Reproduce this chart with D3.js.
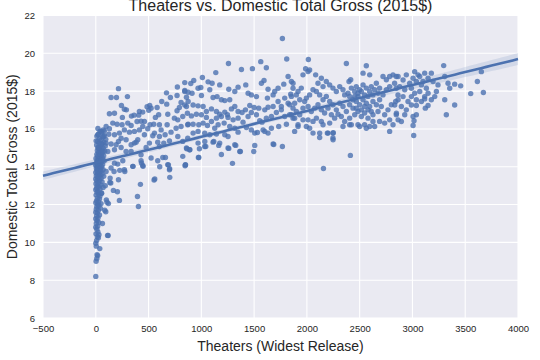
<!DOCTYPE html>
<html><head><meta charset="utf-8">
<script src="https://cdn.jsdelivr.net/npm/d3@7"></script>
<style>body{margin:0;background:#fff;}svg{display:block;font-family:"Liberation Sans",Arial,sans-serif;}</style>
</head><body>
<script>
// ---- data (theaters, log domestic total gross 2015$) ----
const xTicks = [-500,0,500,1000,1500,2000,2500,3000,3500,4000];
const yTicks = [6,8,10,12,14,16,18,20,22];
const chartTitle = "Theaters vs. Domestic Total Gross (2015$)";
const xLabel = "Theaters (Widest Release)";
const yLabel = "Domestic Total Gross (2015$)";

const limitedRelease = [[0,8.2],[3,9.0],[10,9.15],[18,9.3],[12,9.35],[38,9.67],[5,9.8],[0,9.95],[8,10.1],[25,10.25],[15,10.3],[112,10.37],[30,10.4],[2,10.45],[20,10.55],[10,10.7],[0,10.8],[18,10.85],[5,11.0],[63,11.0],[28,11.05],[12,11.15],[0,11.25],[22,11.3],[8,11.4],[35,11.45],[15,11.55],[0,11.6],[95,11.62],[25,11.7],[5,11.75],[45,11.8],[10,11.9],[30,11.95],[18,12.0],[50,12.05],[120,12.05],[0,12.1],[25,12.15],[8,12.2],[100,12.25],[35,12.3],[15,12.35],[40,12.45],[3,12.5],[28,12.55],[55,12.6],[12,12.65],[20,12.72],[0,12.78],[40,12.82],[8,12.88],[70,12.9],[30,12.95],[15,13.0],[90,13.0],[45,13.05],[2,13.1],[22,13.15],[60,13.2],[10,13.25],[35,13.3],[0,13.35],[50,13.38],[18,13.42],[28,13.47],[75,13.5],[5,13.52],[40,13.56],[15,13.6],[60,13.62],[25,13.66],[0,13.7],[35,13.72],[50,13.76],[10,13.8],[20,13.82],[70,13.85],[30,13.88],[45,13.9],[5,13.94],[15,13.97],[55,14.0],[25,14.02],[38,14.05],[0,14.08],[12,14.1],[65,14.12],[30,14.15],[45,14.18],[20,14.2],[8,14.23],[55,14.26],[35,14.3],[80,14.32],[15,14.35],[25,14.38],[48,14.4],[2,14.44],[62,14.46],[30,14.5],[40,14.53],[18,14.56],[75,14.58],[52,14.62],[10,14.65],[35,14.7],[60,14.72],[25,14.76],[45,14.8],[85,14.82],[15,14.86],[55,14.9],[32,14.94],[70,14.98],[20,15.02],[42,15.06],[90,15.1],[8,15.15],[60,15.2],[30,15.25],[75,15.3],[18,15.35],[50,15.42],[95,15.45],[35,15.5],[65,15.58],[10,15.62],[80,15.65],[25,15.72],[55,15.8],[40,15.88],[70,15.95],[20,16.02]];

const smallRelease = [[142,13.14],[167,12.75],[205,12.68],[224,12.22],[395,12.43],[404,11.9],[423,13.07],[552,13.3],[133,13.17],[136,13.4],[215,13.31],[173,13.75],[227,13.81],[275,13.75],[353,14.02],[433,14.2],[448,14.02],[559,13.35],[107,12.12],[85,11.7],[117,10.36],[54,12.6]];

const earlyRelease = [[215,18.13],[145,17.66],[196,17.66],[300,17.71],[773,18.22],[843,18.03],[243,17.24],[290,17.01],[271,17.04],[129,16.80],[177,16.83],[252,16.61],[338,16.68],[363,16.73],[413,16.92],[445,16.89],[407,16.73],[486,17.17],[511,17.24],[524,17.10],[502,16.99],[581,17.13],[625,17.45],[672,17.31],[707,17.66],[770,17.77],[808,17.40],[859,17.68],[859,17.19],[792,17.13],[770,16.96],[682,16.78],[596,16.75],[565,16.61],[603,16.22],[549,16.25],[514,16.22],[461,16.39],[429,16.41],[391,16.39],[335,16.18],[303,16.31],[249,16.22],[202,16.25],[161,16.31],[98,16.13],[82,15.90],[129,16.01],[50,15.87],[19,15.69],[3,15.37],[76,15.60],[123,15.72],[177,15.69],[224,15.78],[271,15.95],[319,15.83],[366,15.87],[413,15.95],[445,16.13],[492,16.01],[556,15.78],[619,15.95],[676,16.22],[745,16.57],[777,16.48],[824,16.66],[871,16.22],[808,16.13],[761,16.04],[713,15.83],[657,15.69],[603,15.60],[540,15.64],[461,15.69],[398,15.43],[366,15.25],[335,15.16],[287,15.43],[240,15.51],[215,15.34],[193,15.16],[145,15.20],[98,15.25],[50,15.20],[25,14.99],[66,14.81],[114,14.81],[177,14.90],[240,15.02],[287,14.81],[335,14.81],[382,15.30],[429,14.63],[477,15.02],[508,15.25],[587,15.30],[603,15.07],[644,15.25],[698,15.37],[777,15.60],[824,15.34],[871,15.51],[429,14.32],[445,14.07],[524,14.46],[587,14.32],[635,14.49],[682,14.11],[824,14.55],[846,14.05],[698,13.84],[256,14.32],[208,14.14],[177,14.19],[145,13.93],[98,13.75],[271,13.84],[350,14.02],[670,17.91],[843,18.45]];

const midRelease = [[1768,20.78],[1809,19.70],[1257,19.46],[1137,18.98],[1380,19.14],[1484,19.19],[1563,19.56],[1616,19.24],[900,18.40],[928,18.56],[1010,18.72],[1064,18.49],[1102,18.42],[1174,18.33],[843,17.98],[875,17.94],[912,17.89],[969,18.15],[995,18.19],[1001,17.77],[1080,18.07],[1111,17.66],[1149,17.71],[1190,17.54],[1222,17.50],[1269,17.54],[1260,18.10],[1317,17.98],[1348,18.21],[1421,18.33],[1443,17.89],[1474,17.80],[1522,17.71],[1569,18.42],[1594,18.56],[1632,18.10],[1626,17.63],[1680,17.80],[1695,17.98],[1727,18.15],[1781,18.37],[1822,18.77],[1853,18.51],[1869,18.15],[1847,17.84],[1790,17.63],[1727,17.45],[1758,17.19],[1822,17.36],[1869,17.10],[1680,17.19],[1632,17.15],[1601,17.01],[1544,17.10],[1500,17.13],[1459,17.24],[1418,17.01],[1386,16.87],[1348,16.92],[1317,17.19],[1285,17.06],[1247,16.75],[1222,16.89],[1174,16.78],[1143,16.92],[1096,17.06],[1048,16.92],[1017,17.19],[969,17.22],[922,17.27],[875,17.45],[843,17.27],[868,16.83],[906,16.69],[953,16.78],[1001,16.75],[1048,16.61],[1096,16.39],[1143,16.57],[1190,16.66],[1253,16.61],[1301,16.48],[1348,16.57],[1395,16.36],[1443,16.66],[1474,16.87],[1522,16.75],[1553,16.43],[1575,16.36],[1616,16.57],[1664,16.66],[1711,16.87],[1758,17.01],[1790,16.66],[1837,16.75],[1869,16.57],[875,16.25],[922,16.25],[976,16.22],[1017,16.31],[1058,16.18],[1127,16.04],[1159,16.22],[1216,16.31],[1269,16.13],[1317,16.04],[1427,16.08],[1474,15.95],[1531,15.81],[1601,15.87],[1664,16.04],[1733,16.13],[1806,16.25],[922,15.78],[969,15.87],[1032,15.78],[1080,15.69],[1143,15.73],[1222,15.69],[1253,15.60],[1348,15.83],[1506,15.78],[1585,15.95],[1632,15.78],[859,14.99],[890,14.90],[969,15.25],[1032,15.07],[1111,15.30],[1174,15.25],[1253,14.99],[1317,15.16],[1364,14.81],[1680,15.20],[976,14.49],[849,14.11]];

const wideRelease = [[2014,19.67],[1988,19.18],[1963,18.86],[2011,19.04],[2026,19.12],[2374,19.46],[2563,19.34],[2532,18.95],[2595,18.86],[2415,18.60],[2399,18.51],[1869,18.42],[1916,17.98],[1947,18.16],[1900,17.80],[1853,17.72],[1837,17.28],[1884,17.36],[1932,17.54],[1979,17.45],[1963,17.10],[1900,16.92],[1853,16.75],[1884,16.57],[1932,16.75],[2083,18.86],[2137,18.68],[2105,18.42],[2153,18.24],[2184,18.51],[2216,18.33],[2247,18.16],[2279,17.98],[2311,18.24],[2342,18.07],[2358,17.80],[2389,17.89],[2421,18.16],[2453,17.98],[2484,17.72],[2500,18.07],[2532,18.33],[2563,18.16],[2595,17.98],[2626,17.80],[2658,18.42],[2689,18.16],[2721,18.77],[2753,18.60],[2784,18.77],[2816,18.86],[2847,18.77],[2831,18.42],[2784,18.24],[2753,18.07],[2721,17.80],[2689,17.54],[2658,17.28],[2626,17.45],[2595,17.19],[2563,17.36],[2532,17.54],[2500,17.28],[2468,17.45],[2437,17.10],[2405,17.28],[2374,16.92],[2342,17.19],[2311,17.36],[2279,17.01],[2247,17.28],[2216,17.45],[2184,17.72],[2153,17.54],[2121,17.80],[2090,17.98],[2058,18.07],[2026,17.80],[1995,17.63],[2011,17.19],[2042,16.92],[2074,17.10],[2105,17.28],[2137,17.01],[2168,16.84],[2200,17.10],[2232,16.75],[2263,16.57],[2295,16.78],[2326,16.66],[2358,16.40],[2405,16.57],[2453,16.75],[2484,16.92],[2516,16.66],[2547,16.84],[2579,16.57],[2626,16.75],[2674,16.92],[2705,17.19],[2737,16.75],[2768,17.01],[2800,17.28],[2841,17.45],[2863,17.80],[2847,16.75],[2784,16.48],[2737,16.31],[2816,16.22],[2689,16.40],[2626,16.40],[2595,16.13],[2547,16.22],[2484,16.22],[2421,16.22],[2342,16.13],[2216,16.31],[2137,16.40],[2090,16.57],[2058,16.40],[2011,16.48],[1963,16.48],[1916,16.22],[1884,15.87],[1916,16.13],[1995,16.13],[2026,16.04],[2058,15.78],[2121,15.78],[2121,15.55],[2200,15.78],[2247,15.78],[2247,15.52],[2405,16.22],[2153,16.22],[2784,15.87],[2563,16.04],[2500,16.13],[2642,16.13],[2453,17.72],[2484,17.89],[2516,17.98],[2547,17.80],[2579,17.72],[2610,18.24],[2642,18.07],[2674,17.89],[2468,18.24],[2437,17.54],[2405,17.72],[2547,17.19],[2579,17.01],[2610,16.92],[2516,17.01],[2468,17.10],[2194,15.78],[2250,15.80],[3012,15.65]];

const widestRelease = [[3296,19.35],[3653,19.03],[3615,18.51],[3672,17.93],[3552,17.87],[3457,18.28],[3400,18.37],[3321,16.75],[3400,17.27],[3306,17.54],[3353,18.15],[3337,18.42],[3306,18.77],[3242,18.33],[3227,17.98],[3211,17.71],[3179,17.54],[3148,17.89],[3132,18.15],[3100,18.51],[3069,18.77],[3021,19.03],[3053,18.86],[3116,18.95],[3179,18.95],[3195,18.51],[3148,18.68],[3085,18.33],[3037,18.51],[3006,18.68],[2974,18.42],[2942,18.86],[2911,18.59],[2864,18.77],[2879,18.24],[2848,18.15],[2927,18.07],[2990,18.15],[3021,17.89],[3069,17.98],[3116,17.71],[3085,17.45],[3037,17.54],[2990,17.71],[2958,17.45],[2911,17.71],[2864,17.54],[2832,17.27],[2895,17.19],[2942,17.01],[2990,17.27],[3037,17.24],[3122,17.10],[3148,17.24],[2848,16.83],[2927,16.75],[2864,16.48],[2895,16.39],[3006,16.66],[3037,16.75],[3015,16.43],[3006,16.18],[3116,17.59]];

const belowTrend = [[660,14.49],[688,14.1],[700,13.9],[701,13.44],[606,14.0],[850,14.1],[862,14.95],[890,14.9],[972,14.49],[982,14.95],[1042,15.07],[1033,15.34],[1118,15.34],[1165,15.13],[1190,14.65],[1260,14.97],[1295,14.18],[1326,15.13],[1370,14.81],[1497,14.81],[1506,15.13],[1686,15.18],[1768,15.07],[2157,13.91],[2248,15.43],[2412,14.6]];

// ---- chart ----
const W = 540, H = 360;
const x = d3.scaleLinear().domain([-500, 4000]).range([43, 518]);
const y = d3.scaleLinear().domain([6, 22]).range([318, 15.5]);
const blue = "#4C72B0";

const svg = d3.select("body").append("svg").attr("width", W).attr("height", H);

svg.append("rect").attr("x", x(-500)).attr("y", y(22))
  .attr("width", x(4000) - x(-500)).attr("height", y(6) - y(22)).attr("fill", "#EAEAF2");

const grid = svg.append("g");
grid.selectAll(".vx").data(xTicks).join("line")
  .attr("x1", d => x(d)).attr("x2", d => x(d)).attr("y1", y(22)).attr("y2", y(6))
  .attr("stroke", "#fff").attr("stroke-width", 1.1);
grid.selectAll(".hy").data(yTicks).join("line")
  .attr("y1", d => y(d)).attr("y2", d => y(d)).attr("x1", x(-500)).attr("x2", x(4000))
  .attr("stroke", "#fff").attr("stroke-width", 1.1);

const fmt = d => d < 0 ? "\u2212" + Math.abs(d) : String(d);
const xAxis = d3.axisBottom(x).tickValues(xTicks).tickSize(0).tickPadding(7).tickFormat(fmt);
const yAxis = d3.axisLeft(y).tickValues(yTicks).tickSize(0).tickPadding(8).tickFormat(fmt);
const gx = svg.append("g").attr("transform", `translate(0,${y(6)})`).call(xAxis);
const gy = svg.append("g").attr("transform", `translate(${x(-500)},0)`).call(yAxis);
[gx, gy].forEach(g => {
  g.select(".domain").remove();
  g.selectAll("text").attr("fill", "#262626").attr("font-size", "9.5px")
    .attr("font-family", "'Liberation Sans', Arial, sans-serif");
});

const all = [].concat(limitedRelease, smallRelease, earlyRelease, midRelease, wideRelease, widestRelease, belowTrend);

// scatter
svg.append("g").selectAll("circle").data(all).join("circle")
  .attr("cx", d => x(d[0])).attr("cy", d => y(d[1])).attr("r", 2.7)
  .attr("fill", blue).attr("fill-opacity", 0.8);

// OLS fit + 95% CI
const n = all.length;
const mx = d3.mean(all, d => d[0]), my = d3.mean(all, d => d[1]);
const sxx = d3.sum(all, d => (d[0] - mx) ** 2);
const sxy = d3.sum(all, d => (d[0] - mx) * (d[1] - my));
const slope = sxy / sxx, icpt = my - slope * mx;
const s2 = d3.sum(all, d => (d[1] - icpt - slope * d[0]) ** 2) / (n - 2);
const xs = d3.range(-500, 4001, 50);
const band = xs.map(v => {
  const h = 1.96 * Math.sqrt(s2 * (1 / n + (v - mx) ** 2 / sxx));
  const m = icpt + slope * v;
  return [v, m - h, m + h];
});
svg.append("path").datum(band)
  .attr("d", d3.area().x(d => x(d[0])).y0(d => y(d[1])).y1(d => y(d[2])))
  .attr("fill", blue).attr("fill-opacity", 0.15);
svg.append("path").datum(xs)
  .attr("d", d3.line().x(d => x(d)).y(d => y(icpt + slope * d)))
  .attr("stroke", blue).attr("stroke-width", 2.6).attr("fill", "none");

// titles
svg.append("text").attr("x", (x(-500) + x(4000)) / 2).attr("y", 11).attr("text-anchor", "middle")
  .attr("font-size", "16px").attr("fill", "#262626").text(chartTitle);
svg.append("text").attr("x", (x(-500) + x(4000)) / 2).attr("y", 351).attr("text-anchor", "middle")
  .attr("font-size", "14px").attr("fill", "#262626").text(xLabel);
svg.append("text").attr("transform", `translate(17,${(y(6) + y(22)) / 2}) rotate(-90)`).attr("text-anchor", "middle")
  .attr("font-size", "14px").attr("fill", "#262626").text(yLabel);
</script>
</body></html>
